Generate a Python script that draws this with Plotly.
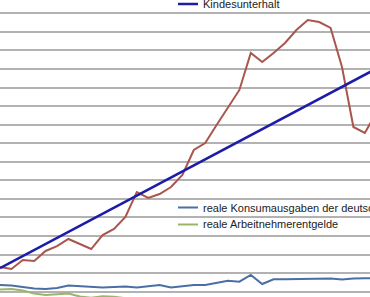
import plotly.graph_objects as go

years = list(range(1980, 2014))

red_vals = [126.6, 124.5, 134.2, 133.1, 143.9, 149.2, 156.8, 151.4, 146.0, 161.1,
            167.6, 180.5, 207.4, 201.0, 205.3, 212.8, 225.8, 252.7, 260.2, 279.6,
            299.0, 317.4, 357.2, 347.5, 357.2, 368.0, 382.0, 392.8, 390.6, 384.2,
            342.1, 277.5, 271.0, 292.6]

konsum_vals = [107.2, 106.7, 105.1, 103.4, 102.9, 104.0, 106.7, 106.1, 105.1, 104.5,
               105.1, 105.6, 104.5, 105.6, 107.2, 104.5, 106.1, 107.2, 107.2, 109.4,
               111.9, 110.8, 118.0, 108.3, 113.4, 113.4, 113.5, 113.7, 114.2, 114.2,
               113.1, 114.2, 114.4, 114.6]

arbeit_vals = [102.4, 102.9, 101.3, 98.1, 96.4, 97.0, 98.1, 94.8, 93.5, 95.0,
               94.6, 93.0, 91.5, 90.8, 90.0, 89.5, 89.0, 88.6, 88.2, 88.0,
               88.5, 88.3, 88.0, 87.6, 87.2, 87.0, 86.8, 87.2, 87.8, 88.0,
               87.5, 88.0, 88.4, 88.6]

kindes_years = [1980, 2013]
kindes_vals = [125.5, 340.3]

legend_top = ["Kindesunterhalt"]
legend_bottom = ["reale Konsumausgaben der deutschen Haushalte", "reale Arbeitnehmerentgelde"]

C_RED = "#a8564e"
C_NAVY = "#1c1ca8"
C_BLUE = "#4a6fa5"
C_GREEN = "#9cb56c"

fig = go.Figure()
fig.add_trace(go.Scatter(x=years, y=arbeit_vals, mode="lines",
                         line=dict(color=C_GREEN, width=2), showlegend=False))
fig.add_trace(go.Scatter(x=years, y=konsum_vals, mode="lines",
                         line=dict(color=C_BLUE, width=2), showlegend=False))
fig.add_trace(go.Scatter(x=years, y=red_vals, mode="lines",
                         line=dict(color=C_RED, width=2), showlegend=False))
fig.add_trace(go.Scatter(x=kindes_years, y=kindes_vals, mode="lines",
                         line=dict(color=C_NAVY, width=2.5), showlegend=False))

W, H = 370, 297

def px_x(p):
    return p / W

def px_y(p):
    return 1 - p / H

shapes = []
annotations = []
legend_items = [
    (legend_top[0], C_NAVY, 4.0, 2.5),
    (legend_bottom[0], C_BLUE, 207.5, 2),
    (legend_bottom[1], C_GREEN, 224.5, 2),
]
for text, col, yy, lw in legend_items:
    shapes.append(dict(type="line", xref="paper", yref="paper",
                       x0=px_x(178), x1=px_x(198), y0=px_y(yy), y1=px_y(yy),
                       line=dict(color=col, width=lw)))
    annotations.append(dict(text=text, xref="paper", yref="paper",
                            x=px_x(201), y=px_y(yy), xanchor="left", yanchor="middle",
                            showarrow=False,
                            font=dict(family="Liberation Sans, Arial", size=11, color="#222222")))

fig.update_layout(
    width=W, height=H,
    margin=dict(l=0, r=0, t=0, b=0),
    paper_bgcolor="white", plot_bgcolor="white",
    xaxis=dict(range=[1980, 1980 + 370 / 11.4], visible=False, showgrid=False, zeroline=False),
    yaxis=dict(range=[94.3, 414.3], tick0=100, dtick=20, showgrid=True,
               gridcolor="#b2b2b2", gridwidth=2, showticklabels=False,
               zeroline=False, showline=False, ticks=""),
    shapes=shapes,
    annotations=annotations,
    showlegend=False,
)

fig.write_html("out.html")
